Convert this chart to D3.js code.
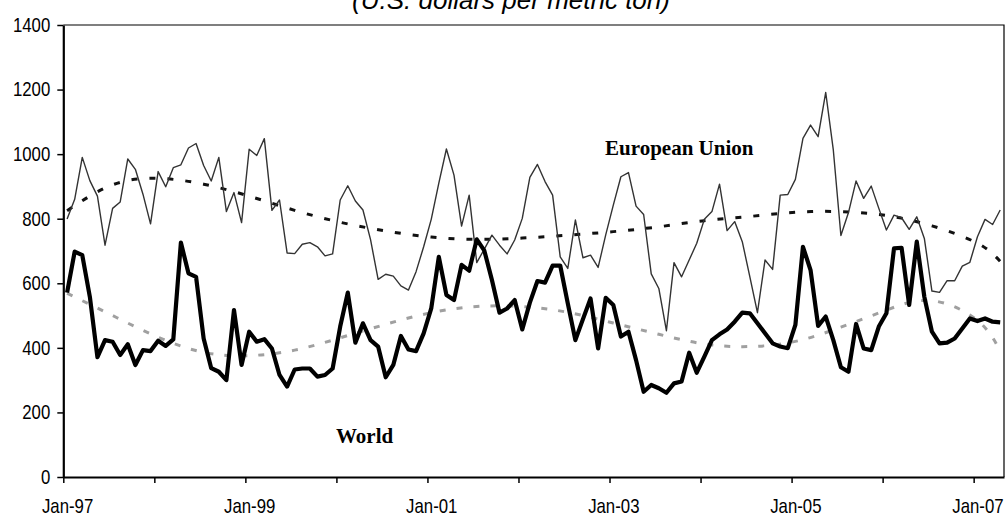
<!DOCTYPE html>
<html>
<head>
<meta charset="utf-8">
<script src="https://cdn.jsdelivr.net/npm/d3@7"></script>
<style>
  body { margin: 0; background: #fff; }
  svg { display: block; }
</style>
</head>
<body>
<div id="chart"></div>
<script>
// monthly prices, Jan-97 .. Apr-07
const euPrices = [
  799, 860, 990, 918, 870, 718, 832, 852, 985, 953, 876, 784, 946, 899, 958, 967, 1019, 1033, 965, 917,
  990, 822, 881, 788, 1015, 996, 1048, 826, 858, 694, 692, 721, 726, 713, 685, 691,
  858, 902, 855, 827, 735, 612, 628, 622, 592, 579, 636, 713, 798, 910, 1016, 935, 777, 873, 664, 706, 749, 718, 691, 734, 801,
  928, 968, 915, 873, 682, 646, 796, 679, 687, 649, 750, 842, 930, 943, 839, 813, 629, 584, 453, 664,
  620, 672, 724, 798, 822, 907, 763, 791, 729, 620, 509, 672, 643, 873, 875, 922, 1049, 1090, 1054, 1191, 1013,
  748, 819, 917, 863, 901, 832, 765, 811, 803, 767, 806, 739, 576, 572, 608, 608, 653, 665, 744, 798, 782, 827
];
const worldPrices = [
  571, 698, 687, 558, 371, 424, 419, 378, 411, 347, 393, 390, 422, 406, 426, 726, 631, 620, 429, 337,
  326, 300, 517, 347, 450, 419, 427, 398, 316, 280, 333, 336, 336, 311, 316, 336,
  466, 571, 416, 476, 424, 404, 309, 347, 437, 395, 390, 445, 522, 682, 564, 548, 657, 639, 736, 701, 610, 509, 522, 548, 457,
  540, 607, 602, 655, 655, 538, 424, 489, 553, 398, 555, 533, 435, 450, 362, 264, 285, 275, 261, 290,
  296, 385, 323, 373, 424, 442, 457, 481, 509, 507, 476, 445, 414, 404, 399, 471, 713, 641, 468, 497, 424,
  340, 326, 474, 398, 393, 466, 507, 708, 710, 533, 729, 558, 450, 414, 416, 429, 460, 491, 483, 491, 481, 479
];

// trend lines, every 6 months
const trendMonths = [0, 6, 12, 18, 24, 30, 36, 42, 48, 54, 60, 66, 72, 78, 84, 90, 96, 102, 108, 114, 120, 123];
const euTrend    = [825, 905, 925, 907, 870, 826, 789, 762, 743, 736, 740, 749, 760, 775, 794, 807, 820, 822, 810, 778, 724, 668];
const worldTrend = [569, 500, 433, 386, 376, 393, 431, 473, 509, 528, 528, 510, 477, 442, 412, 404, 420, 464, 517, 546, 485, 390];

const yTicks = [0, 200, 400, 600, 800, 1000, 1200, 1400];
const xTickLabels = ['Jan-97', '', 'Jan-99', '', 'Jan-01', '', 'Jan-03', '', 'Jan-05', '', 'Jan-07'];

const width = 1005;
const height = 517;
const plot = {left: 63.3, right: 1004, top: 25, bottom: 477};

const svg = d3.select('#chart').append('svg')
    .attr('width', width)
    .attr('height', height);

const x = d3.scaleLinear()
    .domain([0, euPrices.length])
    .range([plot.left, plot.right]);

const y = d3.scaleLinear()
    .domain([0, 1400])
    .range([plot.bottom, plot.top]);

// plot frame (top, right)
svg.append('path')
    .attr('d', `M${plot.left},${plot.top}H${plot.right}V${plot.bottom}`)
    .attr('fill', 'none')
    .attr('stroke', '#000')
    .attr('stroke-width', 1.2);

// no narrow font installed, so squeeze the tick labels horizontally
const tickFont = '"Liberation Sans", Arial, sans-serif';
const squeeze = 0.84;

// y axis
const yAxis = svg.append('g')
    .attr('transform', `translate(${plot.left},0)`)
    .call(d3.axisLeft(y).tickValues(yTicks).tickFormat(d3.format('d'))
        .tickSize(6).tickPadding(8).tickSizeOuter(0));
yAxis.select('.domain').attr('stroke-width', 2.2);
yAxis.selectAll('.tick line').attr('stroke-width', 1.5);
yAxis.selectAll('text')
    .attr('x', 0)
    .attr('transform', `translate(-13,0) scale(${squeeze},1)`)
    .style('font-family', tickFont)
    .style('font-size', '20px')
    .attr('fill', '#000');

// x axis
const half = x(0.5) - x(0);
const xAxis = svg.append('g')
    .attr('transform', `translate(0,${plot.bottom})`)
    .call(d3.axisBottom(x)
        .tickValues(d3.range(0, 121, 12))
        .tickFormat((d, i) => xTickLabels[i])
        .tickSize(6).tickPadding(16).tickSizeOuter(0));
xAxis.select('.domain').attr('stroke-width', 2.2);
xAxis.selectAll('.tick line').attr('stroke-width', 1.5);
xAxis.selectAll('text')
    .attr('x', 0)
    .attr('transform', `translate(${half},0) scale(${squeeze},1)`)
    .style('font-family', tickFont)
    .style('font-size', '20px')
    .attr('fill', '#000');

const lineOf = (vals) => d3.line()
    .x((d, i) => x(i + 0.5))
    .y(d => y(d))(vals);

const trendLine = d3.line()
    .x(d => x(d[0] + 0.5))
    .y(d => y(d[1]))
    .curve(d3.curveNatural);

// trend lines
svg.append('path')
    .attr('d', trendLine(d3.zip(trendMonths, worldTrend)))
    .attr('fill', 'none')
    .attr('stroke', '#a0a0a0')
    .attr('stroke-width', 3)
    .attr('stroke-dasharray', '6,11');

svg.append('path')
    .attr('d', trendLine(d3.zip(trendMonths, euTrend)))
    .attr('fill', 'none')
    .attr('stroke', '#111')
    .attr('stroke-width', 3)
    .attr('stroke-dasharray', '6,12');

// EU series
svg.append('path')
    .attr('d', lineOf(euPrices))
    .attr('fill', 'none')
    .attr('stroke', '#333')
    .attr('stroke-width', 1.4)
    .attr('stroke-linejoin', 'round');

// World series
svg.append('path')
    .attr('d', lineOf(worldPrices))
    .attr('fill', 'none')
    .attr('stroke', '#000')
    .attr('stroke-width', 4.2)
    .attr('stroke-linejoin', 'round');

// series labels
const labelFont = '"Liberation Serif", "Times New Roman", serif';
svg.append('text')
    .attr('x', 605).attr('y', 155)
    .style('font-family', labelFont)
    .style('font-size', '21px')
    .style('font-weight', 'bold')
    .text('European Union');

svg.append('text')
    .attr('x', 336).attr('y', 443)
    .style('font-family', labelFont)
    .style('font-size', '21px')
    .style('font-weight', 'bold')
    .text('World');

// title (cut off at the top of the picture)
svg.append('text')
    .attr('x', 511).attr('y', 9)
    .attr('text-anchor', 'middle')
    .style('font-family', '"Liberation Sans", Arial, sans-serif')
    .style('font-size', '26px')
    .style('font-style', 'italic')
    .text('(U.S. dollars per metric ton)');
</script>
</body>
</html>
